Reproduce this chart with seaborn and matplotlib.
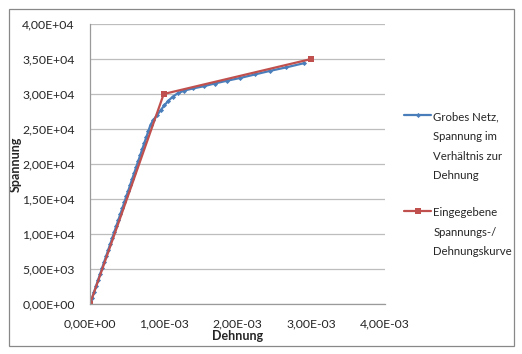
import matplotlib
matplotlib.use("Agg")
import matplotlib.pyplot as plt
import seaborn as sns
import pandas as pd
from matplotlib.ticker import FuncFormatter, MultipleLocator
from matplotlib.patches import Rectangle

# Grobes Netz (strain, stress)
blue_strain = [0, 0.027e-3, 0.055e-3, 0.082e-3, 0.109e-3, 0.137e-3, 0.164e-3, 0.191e-3,
               0.219e-3, 0.246e-3, 0.273e-3, 0.301e-3, 0.328e-3, 0.355e-3, 0.383e-3,
               0.410e-3, 0.438e-3, 0.465e-3, 0.492e-3, 0.520e-3, 0.547e-3, 0.574e-3,
               0.602e-3, 0.629e-3, 0.656e-3, 0.684e-3, 0.711e-3, 0.738e-3, 0.766e-3,
               0.793e-3, 0.821e-3,
               0.86e-3, 0.91e-3, 0.96e-3, 1.01e-3, 1.06e-3, 1.12e-3, 1.19e-3, 1.28e-3,
               1.40e-3, 1.54e-3, 1.69e-3, 1.86e-3, 2.04e-3, 2.24e-3, 2.44e-3, 2.66e-3,
               2.90e-3]
blue_stress = [0, 850, 1700, 2560, 3410, 4270, 5120, 5970, 6830, 7680, 8530, 9390,
               10240, 11090, 11950, 12800, 13650, 14510, 15360, 16210, 17070, 17920,
               18770, 19630, 20480, 21330, 22190, 23040, 23890, 24750, 25600,
               26300, 27000, 27700, 28400, 29000, 29600, 30100, 30500, 30800, 31100,
               31500, 31900, 32300, 32800, 33300, 33800, 34400]

# Eingegebene Spannungs-/Dehnungskurve
red_strain = [0, 1.0e-3, 3.0e-3]
red_stress = [0, 30000, 35000]

blue_label = "Grobes Netz,\nSpannung im\nVerhältnis zur\nDehnung"
red_label = "Eingegebene\nSpannungs-/\nDehnungskurve"

sns.set_style("white")
plt.rcParams['font.family'] = ['Lato', 'DejaVu Sans']

fig = plt.figure(figsize=(5.22, 3.54), dpi=100)
ax = fig.add_axes([0.1724, 0.1412, 0.565, 0.791])

df_blue = pd.DataFrame({"Dehnung": blue_strain, "Spannung": blue_stress})
df_red = pd.DataFrame({"Dehnung": red_strain, "Spannung": red_stress})

sns.lineplot(data=df_blue, x="Dehnung", y="Spannung", ax=ax, sort=False, color="#4A7EBB",
             linewidth=1.6, marker="D", markersize=2.6, markeredgewidth=0, label=blue_label)
sns.lineplot(data=df_red, x="Dehnung", y="Spannung", ax=ax, sort=False, color="#C0504D",
             linewidth=1.6, marker="s", markersize=4, markeredgewidth=0, label=red_label)

ax.set_xlim(0, 4e-3)
ax.set_ylim(0, 4e4)
ax.xaxis.set_major_locator(MultipleLocator(1e-3))
ax.yaxis.set_major_locator(MultipleLocator(5e3))
fmt = FuncFormatter(lambda v, p: f"{v:.2E}".replace(".", ","))
ax.xaxis.set_major_formatter(fmt)
ax.yaxis.set_major_formatter(fmt)

ax.grid(axis="y", color="#BDBDBD", linewidth=0.9)
ax.set_axisbelow(True)
for s in ["top", "right"]:
    ax.spines[s].set_visible(False)
for s in ["left", "bottom"]:
    ax.spines[s].set_color("#9A9A9A")
    ax.spines[s].set_linewidth(0.9)
ax.tick_params(axis="both", direction="out", length=4, width=0.8, color="#9A9A9A",
               labelsize=8.8)
ax.tick_params(axis="y", pad=7)
ax.tick_params(axis="x", pad=6.5)

ax.set_xlabel("Dehnung", fontsize=9, fontweight="bold", labelpad=0)
ax.set_ylabel("Spannung", fontsize=9, fontweight="bold", labelpad=0)

handles, labels = ax.get_legend_handles_labels()
ax.get_legend().remove()
leg1 = fig.legend([handles[0]], [labels[0]], loc="upper left", bbox_to_anchor=(0.765, 0.698),
                  frameon=False, fontsize=8.2, handlelength=2.4, handletextpad=0.2,
                  borderaxespad=0)
leg2 = fig.legend([handles[1]], [labels[1]], loc="upper left", bbox_to_anchor=(0.765, 0.428),
                  frameon=False, fontsize=8.2, handlelength=2.4, handletextpad=0.2,
                  borderaxespad=0)
for leg in (leg1, leg2):
    for t in leg.get_texts():
        t.set_linespacing(1.95)
    # put the handle next to the first text line
    for col in leg._legend_handle_box.get_children():
        for item in col.get_children():
            item.align = "top"

fig.patches.append(Rectangle((9 / 522, 1 - 346 / 354), 505 / 522, 337 / 354,
                             transform=fig.transFigure, fill=False, edgecolor="#888888",
                             linewidth=0.9))

fig.savefig("out.png", dpi=100)
